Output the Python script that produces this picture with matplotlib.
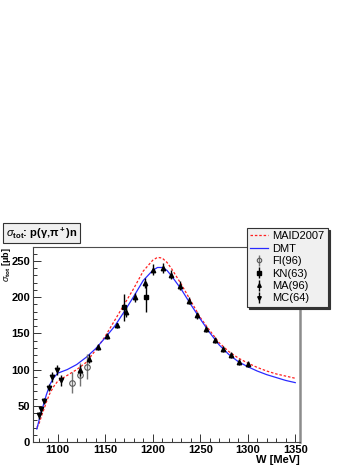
import matplotlib
import matplotlib.pyplot as plt
from matplotlib.ticker import MultipleLocator

matplotlib.use("Agg")

plt.rcParams["font.family"] = ["Liberation Sans", "DejaVu Sans"]
plt.rcParams["mathtext.fontset"] = "custom"
plt.rcParams["mathtext.rm"] = "Liberation Sans"
plt.rcParams["mathtext.it"] = "Liberation Sans:italic"
plt.rcParams["mathtext.bf"] = "Liberation Sans:bold"

# model curves
w_model = [1078, 1080, 1082, 1084, 1086, 1088, 1092, 1096, 1100, 1110, 1120, 1130,
           1140, 1150, 1160, 1170, 1180, 1190, 1200, 1205, 1210, 1215, 1220, 1230,
           1240, 1250, 1260, 1270, 1280, 1290, 1300, 1310, 1320, 1330, 1340, 1350]
dmt = [18, 28, 40, 47, 56, 65, 80, 89, 95, 100, 107, 117,
       129, 144, 160, 180, 201, 223, 237, 241, 241, 237, 229, 211,
       190, 170, 151, 134, 121, 111, 104, 98, 93, 89, 85, 82]
maid = [20, 24, 32, 40, 47, 55, 68, 77, 84, 92, 100, 110,
        127, 146, 168, 190, 212, 236, 251, 255, 254, 248, 239, 218,
        195, 172, 154, 137, 125, 116, 109, 103, 98, 94, 91, 88]

# data sets
fi_w = [1114.8, 1123.2, 1131.0]
fi_s = [82, 93, 104]
fi_e = [15, 16, 17]

kn_w = [1169.3, 1193.2]
kn_s = [186, 200]
kn_e = [19, 21]

ma_w = [1123.5, 1133.0, 1142.9, 1152.4, 1162.3, 1171.8, 1181.6, 1191.4, 1200.6,
        1210.5, 1219.6, 1228.5, 1237.9, 1247.1, 1256.3, 1265.3, 1273.8, 1282.3,
        1291.1, 1299.9]
ma_s = [99, 115, 131, 146, 161, 179, 200, 219, 238,
        240, 231, 216, 195, 175, 156, 141, 128, 120,
        111, 108]
ma_e = [8, 6, 4, 4, 4, 6, 6, 7, 8,
        7, 6, 6, 5, 5, 4, 4, 4, 4,
        4, 4]

mc_w = [1080.6, 1082.4, 1085.9, 1090.5, 1094.3, 1098.9, 1103.0]
mc_s = [37, 45, 57, 75, 90, 100, 85]
mc_e = [5, 5, 4, 5, 7, 7, 8]

fig = plt.figure(figsize=(3.6, 4.66), dpi=100)
ax = fig.add_axes([0.0917, 0.0515, 0.7416, 0.418])

ax.plot(w_model, maid, color="#ff2020", lw=0.9, ls=(0, (2, 1.5)), label="MAID2007")
ax.plot(w_model, dmt, color="#2a2aff", lw=0.9, label="DMT")

ax.errorbar(fi_w, fi_s, yerr=fi_e, fmt="o", ms=4, mfc="none", mec="0.35",
            mew=0.8, ecolor="0.45", elinewidth=1.0, capsize=0, label="FI(96)")
ax.errorbar(kn_w, kn_s, yerr=kn_e, fmt="s", ms=3.2, color="black",
            elinewidth=1.0, capsize=0, label="KN(63)")
ax.errorbar(ma_w, ma_s, yerr=ma_e, fmt="^", ms=3.2, color="black",
            elinewidth=1.0, capsize=0, label="MA(96)")
ax.errorbar(mc_w, mc_s, yerr=mc_e, fmt="v", ms=3.2, color="black",
            elinewidth=1.0, capsize=0, label="MC(64)")

ax.set_xlim(1074, 1355)
ax.set_ylim(0, 269)
ax.xaxis.set_major_locator(MultipleLocator(50))
ax.xaxis.set_minor_locator(MultipleLocator(10))
ax.yaxis.set_major_locator(MultipleLocator(50))
ax.yaxis.set_minor_locator(MultipleLocator(10))
ax.tick_params(which="both", direction="in", top=False, right=False,
               labelsize=8, pad=2, width=0.7, color="0.2")
ax.tick_params(which="major", length=6)
ax.tick_params(which="minor", length=3)
for lab in ax.get_xticklabels() + ax.get_yticklabels():
    lab.set_fontweight("bold")

for side in ["left", "bottom"]:
    ax.spines[side].set_color("0.25")
    ax.spines[side].set_linewidth(0.8)
ax.spines["top"].set_color("0.3")
ax.spines["top"].set_linewidth(0.8)
ax.spines["right"].set_color("0.55")
ax.spines["right"].set_linewidth(1.8)

ax.text(-0.1, 1.0, r"$\sigma_{\bf tot}$ [μb]", rotation=90, ha="center",
        va="top", fontsize=6.5, fontweight="bold", transform=ax.transAxes)
ax.text(1.0, -0.092, "W [MeV]", ha="right", va="center", fontsize=8,
        fontweight="bold", transform=ax.transAxes)

fig.text(0.016, 0.5, r"$\sigma_{\bf tot}$: p(γ,π$^{\bf +}$)n",
         ha="left", va="center", fontsize=8, fontweight="bold",
         bbox=dict(boxstyle="square,pad=0.25", fc="#f0f0f0", ec="0.2", lw=0.8))

leg = ax.legend(loc="upper left", bbox_to_anchor=(0.686, 0.511),
                bbox_transform=fig.transFigure, fontsize=8, frameon=True,
                fancybox=False, shadow={"color": "0.2", "alpha": 1, "ox": 1.6, "oy": -1.6},
                handlelength=1.6, handletextpad=0.4, labelspacing=0.22,
                borderpad=0.3, borderaxespad=0, markerscale=0.8)
leg.get_frame().set_facecolor("#f0f0f0")
leg.get_frame().set_edgecolor("0.2")
leg.get_frame().set_linewidth(0.8)
leg.get_frame().set_alpha(1)

fig.savefig("out.png", dpi=100)
